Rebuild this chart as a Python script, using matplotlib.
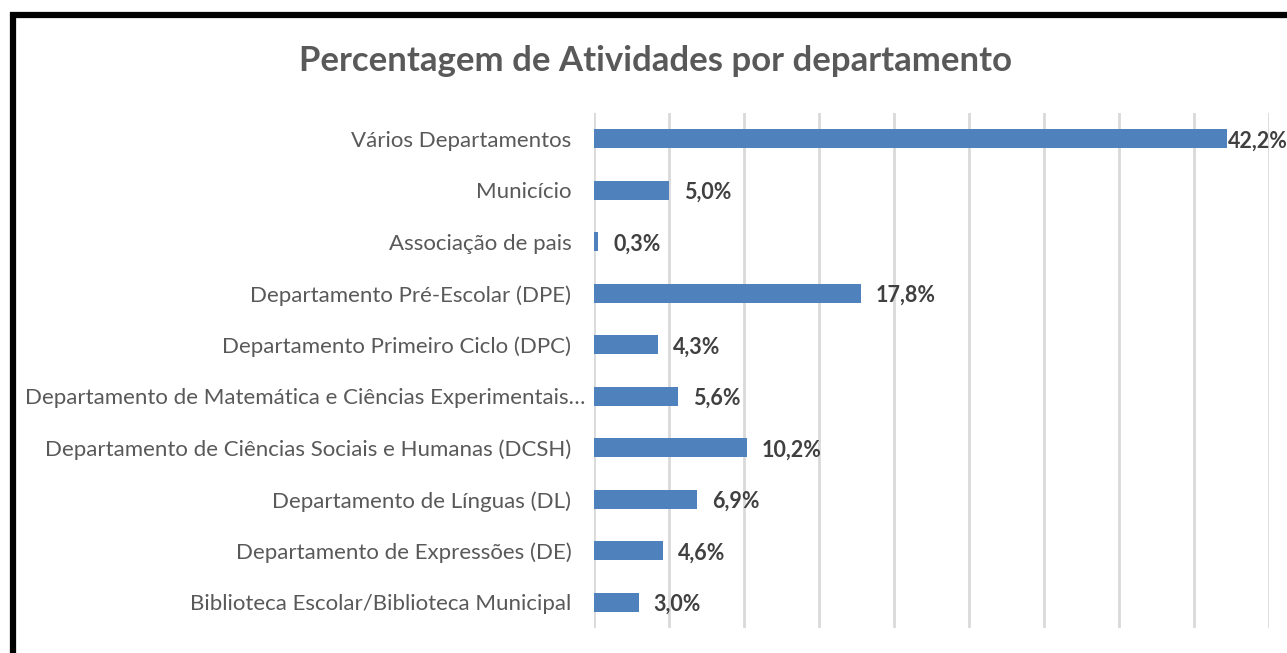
import matplotlib
matplotlib.use("Agg")
import matplotlib.pyplot as plt
from matplotlib.patches import Rectangle
from matplotlib.transforms import ScaledTranslation

categories = [
    "Vários Departamentos",
    "Municício",
    "Associação de pais",
    "Departamento Pré-Escolar (DPE)",
    "Departamento Primeiro Ciclo (DPC)",
    "Departamento de Matemática e Ciências Experimentais…",
    "Departamento de Ciências Sociais e Humanas (DCSH)",
    "Departamento de Línguas (DL)",
    "Departamento de Expressões (DE)",
    "Biblioteca Escolar/Biblioteca Municipal",
]
values = [42.2, 5.0, 0.3, 17.8, 4.3, 5.6, 10.2, 6.9, 4.6, 3.0]
title = "Percentagem de Atividades por departamento"

plt.rcParams['font.family'] = ['Lato', 'DejaVu Sans']

W, H = 1287, 653
fig = plt.figure(figsize=(W / 100, H / 100), dpi=100)
fig.patch.set_facecolor("white")

ax = fig.add_axes([593.5 / W, (H - 628) / H, (1269 - 593.5) / W, (628 - 113) / H])
y = list(range(len(categories)))
ax.barh(y, values, height=0.36, color="#4F81BD", zorder=3)
ax.set_xlim(0, 45)
ax.set_ylim(len(categories) - 0.5, -0.5)
ax.set_xticks(range(0, 46, 5))
ax.set_xticklabels([])
ax.set_yticks(y)
ax.set_yticklabels(categories, fontsize=16, color="#595959")
ax.tick_params(axis="both", length=0, pad=16)
ax.grid(axis="x", color="#D9D9D9", linewidth=2, zorder=0)
for s in ax.spines.values():
    s.set_visible(False)

# the truncated label sits a little further right, as in the original
for lbl in ax.get_yticklabels():
    if lbl.get_text().endswith("…"):
        lbl.set_transform(lbl.get_transform() + ScaledTranslation(14 / 100, 0, fig.dpi_scale_trans))

for i, v in enumerate(values):
    off = 1 if v > 40 else 15
    ax.annotate(f"{v:.1f}".replace(".", ",") + "%", (v, i), xytext=(off, -2),
                textcoords="offset pixels", va="center", ha="left",
                fontsize=15.5, fontweight="bold", color="#404040",
                annotation_clip=False, clip_on=False)

fig.text(655 / W, 1 - 61 / H, title, ha="center", va="center",
         fontsize=25, fontweight="bold", color="#595959")

fig.patches.append(Rectangle((13 / W, -0.2), 1.5, (H - 14.5) / H + 0.2,
                             transform=fig.transFigure, fill=False,
                             edgecolor="black", linewidth=4.5))

fig.savefig("out.png", dpi=100)
